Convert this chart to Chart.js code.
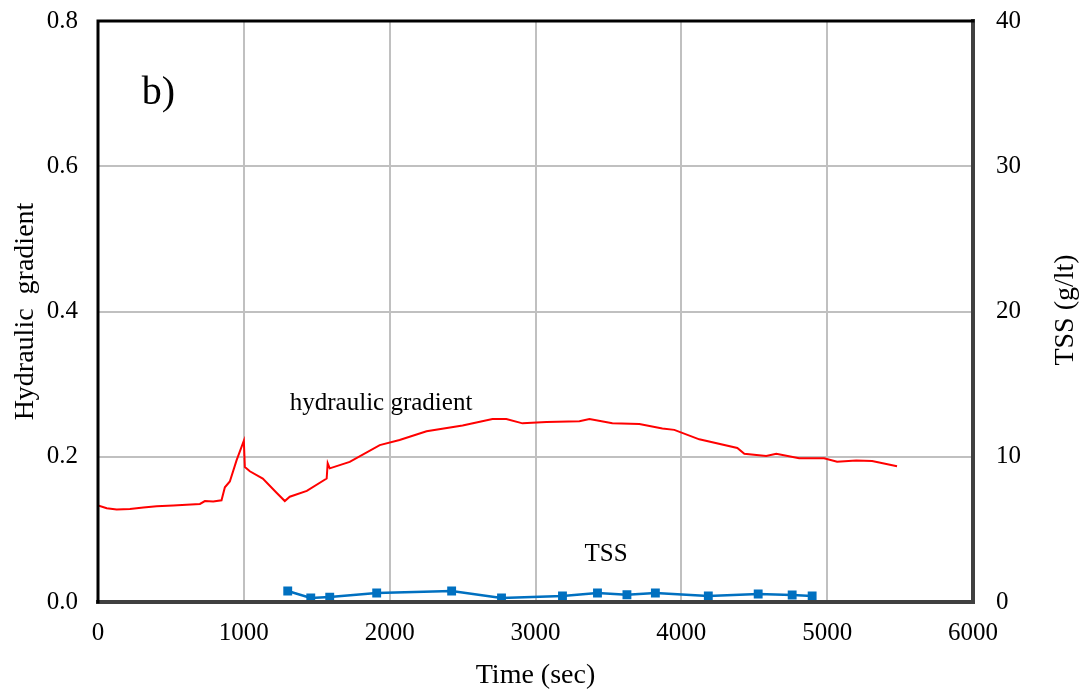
<!DOCTYPE html>
<html>
<head>
<meta charset="utf-8">
<script src="https://cdn.jsdelivr.net/npm/chart.js@4"></script>
<style>
  html, body { margin: 0; padding: 0; background: #fff; }
  #wrap { width: 1088px; height: 698px; }
</style>
</head>
<body>
<div id="wrap"><canvas id="chart" width="1088" height="698"></canvas></div>
<script>
// hydraulic gradient curve
const hgTime = [0, 60, 128, 219, 311, 402, 516, 607, 699, 733, 790, 847, 870, 904, 950, 1000, 1007, 1041, 1130, 1226, 1281, 1315, 1432, 1568, 1575, 1589, 1726, 1932, 2068, 2253, 2500, 2705, 2800, 2911, 3075, 3301, 3370, 3527, 3712, 3870, 3952, 4123, 4384, 4432, 4582, 4651, 4808, 4979, 5068, 5199, 5308, 5479];
const hgValue = [0.133, 0.129, 0.1275, 0.128, 0.130, 0.132, 0.133, 0.134, 0.135, 0.139, 0.1385, 0.140, 0.158, 0.166, 0.195, 0.222, 0.186, 0.180, 0.170, 0.150, 0.139, 0.145, 0.153, 0.170, 0.191, 0.184, 0.193, 0.216, 0.223, 0.235, 0.243, 0.252, 0.252, 0.246, 0.248, 0.249, 0.252, 0.246, 0.245, 0.239, 0.237, 0.224, 0.212, 0.204, 0.201, 0.204, 0.198, 0.198, 0.193, 0.195, 0.194, 0.187];

// TSS samples
const tssTime = [1301, 1459, 1589, 1911, 2425, 2767, 3185, 3425, 3627, 3822, 4185, 4527, 4760, 4897];
const tssValue = [0.76, 0.28, 0.34, 0.62, 0.76, 0.28, 0.41, 0.62, 0.50, 0.62, 0.41, 0.55, 0.48, 0.41];

const xTicks = [0, 1000, 2000, 3000, 4000, 5000, 6000];
const serif = "'Liberation Serif', 'Times New Roman', serif";

// frame, right axis title and in-plot labels
const framePlugin = {
  id: 'frame',
  afterDatasetsDraw(chart) {
    const { ctx, chartArea: a, scales } = chart;
    ctx.save();
    ctx.lineCap = 'square';
    ctx.strokeStyle = '#404040';
    ctx.lineWidth = 4;
    ctx.beginPath();
    ctx.moveTo(a.left, a.bottom); ctx.lineTo(a.right, a.bottom); ctx.lineTo(a.right, a.top);
    ctx.stroke();
    ctx.strokeStyle = '#000';
    ctx.lineWidth = 3;
    ctx.beginPath();
    ctx.moveTo(a.right, a.top); ctx.lineTo(a.left, a.top); ctx.lineTo(a.left, a.bottom);
    ctx.stroke();

    ctx.fillStyle = '#000';
    ctx.textBaseline = 'middle';
    ctx.textAlign = 'left';
    ctx.font = '40px ' + serif;
    ctx.fillText('b)', scales.x.getPixelForValue(300), scales.y.getPixelForValue(0.70));
    ctx.font = '25px ' + serif;
    ctx.fillText('hydraulic gradient', scales.x.getPixelForValue(1315), scales.y.getPixelForValue(0.273));
    ctx.fillText('TSS', scales.x.getPixelForValue(3336), scales.y.getPixelForValue(0.065));

    // right title reads bottom-to-top
    ctx.font = '28px ' + serif;
    ctx.textAlign = 'center';
    ctx.translate(1066, 310);
    ctx.rotate(-Math.PI / 2);
    ctx.fillText('TSS (g/lt)', 0, 0);
    ctx.restore();
  }
};

const noVPad = s => { s.paddingTop = 0; s.paddingBottom = 0; };

new Chart(document.getElementById('chart'), {
  type: 'line',
  data: {
    datasets: [
      {
        label: 'hydraulic gradient',
        data: hgTime.map((t, i) => ({ x: t, y: hgValue[i] })),
        borderColor: '#ff0000',
        borderWidth: 2,
        pointRadius: 0,
        tension: 0,
        yAxisID: 'y'
      },
      {
        label: 'TSS',
        data: tssTime.map((t, i) => ({ x: t, y: tssValue[i] })),
        borderColor: '#0070c0',
        backgroundColor: '#0070c0',
        borderWidth: 2.5,
        pointStyle: 'rect',
        pointRadius: 4.5,
        tension: 0,
        yAxisID: 'y2'
      }
    ]
  },
  options: {
    responsive: false,
    animation: false,
    layout: { padding: { top: 21, right: 0, left: 0, bottom: 0 } },
    plugins: { legend: { display: false }, tooltip: { enabled: false } },
    scales: {
      x: {
        type: 'linear',
        min: 0, max: 6000,
        afterBuildTicks: s => { s.ticks = xTicks.map(v => ({ value: v })); },
        afterFit: s => { s.height = 96; s.paddingLeft = 0; s.paddingRight = 0; },
        grid: { color: '#c0c0c0', lineWidth: 2, drawTicks: false },
        border: { display: false },
        ticks: { color: '#000', font: { family: serif, size: 25 }, padding: 16, maxRotation: 0, callback: v => String(v) },
        title: { display: true, text: 'Time (sec)', color: '#000', font: { family: serif, size: 28 }, padding: { top: 6, bottom: 6 } }
      },
      y: {
        position: 'left',
        min: 0, max: 0.8,
        afterFit: s => { s.width = 98; noVPad(s); },
        grid: { color: '#c0c0c0', lineWidth: 2, drawTicks: false },
        border: { display: false },
        ticks: { stepSize: 0.2, color: '#000', font: { family: serif, size: 25 }, padding: 20, callback: v => v.toFixed(1) },
        title: { display: true, text: 'Hydraulic  gradient', color: '#000', font: { family: serif, size: 28 }, padding: { top: 9, bottom: 4 } }
      },
      y2: {
        position: 'right',
        min: 0, max: 40,
        afterFit: s => { s.width = 115; noVPad(s); },
        grid: { display: false, drawTicks: false },
        border: { display: false },
        ticks: { stepSize: 10, color: '#000', font: { family: serif, size: 25 }, padding: 23 }
      }
    }
  },
  plugins: [framePlugin]
});
</script>
</body>
</html>
